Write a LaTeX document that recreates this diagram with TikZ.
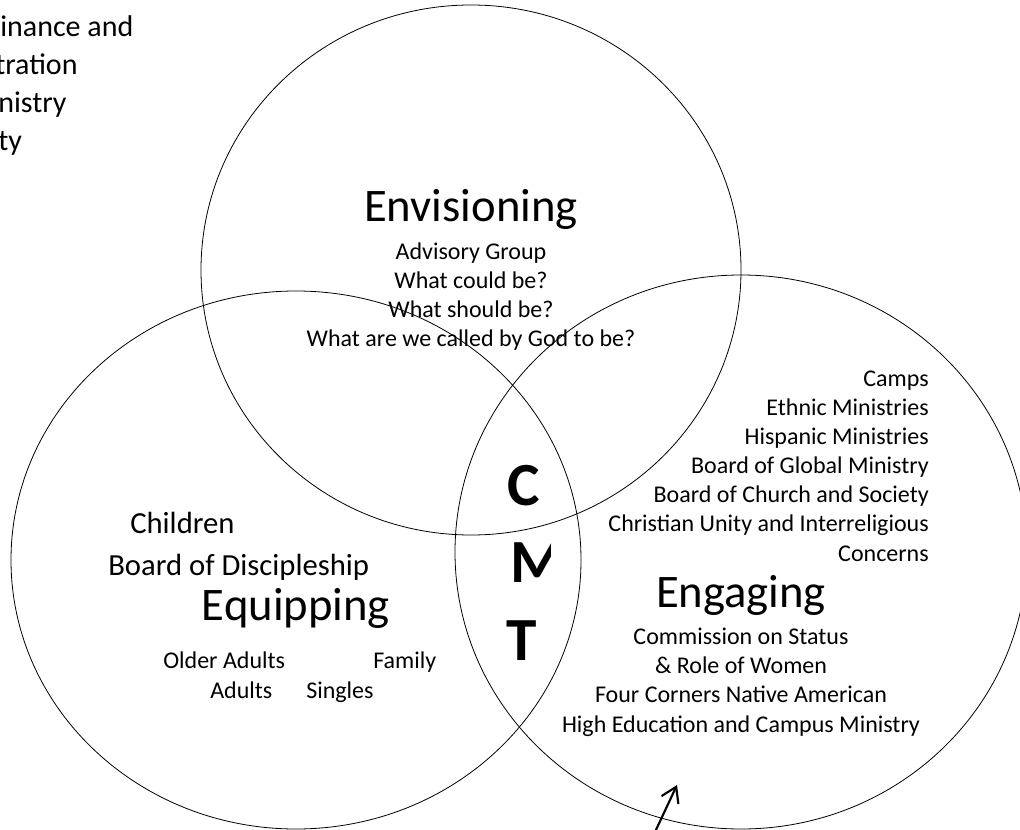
\documentclass[tikz,border=0pt]{standalone}
\usepackage{fontspec}
\setmainfont{Carlito}
\usetikzlibrary{arrows.meta}
\newcommand{\fsz}[2]{\fontsize{#1}{#2}\selectfont}

\begin{document}
\begin{tikzpicture}[x=0.75pt,y=-0.75pt,
		ring/.style={line width=0.6pt},
		heading/.style={font=\fsz{35}{42}, inner sep=0pt},
		smalltext/.style={font=\fsz{18}{21.8}, inner sep=0pt},
		midtext/.style={font=\fsz{23}{28}, inner sep=0pt},
		cornertext/.style={font=\fsz{22.5}{28.5}, inner sep=0pt, anchor=base west},
		lenstext/.style={font=\fsz{46}{56}\bfseries, inner sep=0pt, anchor=base}]
		\useasboundingbox (0,0) rectangle (1020,830);
		% the three rings
		\coordinate (envc) at (471,270);
		\coordinate (equc) at (296,560);
		\coordinate (engc) at (741,552);
		\draw[ring] (envc) ellipse [x radius=270, y radius=265];
		\draw[ring] (equc) ellipse [x radius=285, y radius=269];
		\draw[ring] (engc) ellipse [x radius=286, y radius=277];

		% cut-off list, top left
		\node[cornertext] (fin) at (0,37) {inance and};
		\node[cornertext] (adm) at (-5,75) {tration};
		\node[cornertext] (mins) at (-2,113) {nistry};
		\node[cornertext] (uty) at (-2,151) {ty};

		% Envisioning (multi-line nodes sit on their last baseline)
		\node[heading, anchor=base] (envis) at (471,222) {Envisioning};
		\node[smalltext, anchor=base, align=center] (envlist) at (471,347)
		{Advisory Group\\What could be?\\What should be?\\What are we called by God to be?};

		% Equipping
		\node[midtext, anchor=base west] (child) at (130,533) {Children};
		\node[midtext, anchor=base west] (bdisc) at (108,575) {Board of Discipleship};
		\node[heading, anchor=base] (equip) at (296,620) {Equipping};
		\node[smalltext, anchor=base west] (older) at (163,668) {Older Adults};
		\node[smalltext, anchor=base west] (family) at (373,668) {Family};
		\node[smalltext, anchor=base west] (adults) at (210,698) {Adults};
		\node[smalltext, anchor=base west] (single) at (306,698) {Singles};

		% Engaging
		\node[smalltext, anchor=base east, align=right] (boards) at (929,561)
		{Camps\\Ethnic Ministries\\Hispanic Ministries\\Board of Global Ministry\\Board of Church and Society\\Christian Unity and Interreligious\\Concerns};
		\node[heading, anchor=base] (engag) at (741,607) {Engaging};
		\node[smalltext, anchor=base, align=center] (commis) at (741,732)
		{Commission on Status\\\& Role of Women\\Four Corners Native American\\High Education and Campus Ministry};

		% CMT in the middle
		\node[lenstext] (cmtc) at (524,505) {C};
		\begin{scope}
			\clip (440,530) rectangle (550,600);
			\node[lenstext] (cmtm) at (537,582) {M};
		\end{scope}
		\node[lenstext] (cmtt) at (522,660) {T};

		% arrow at the bottom
		\coordinate (arrfoot) at (655,832);
		\coordinate (arrtip) at (677,785);
		\draw[-{Straight Barb[length=11pt,width=14pt]}, line width=1.6pt] (arrfoot) -- (arrtip);
	\end{tikzpicture}
\end{document}
